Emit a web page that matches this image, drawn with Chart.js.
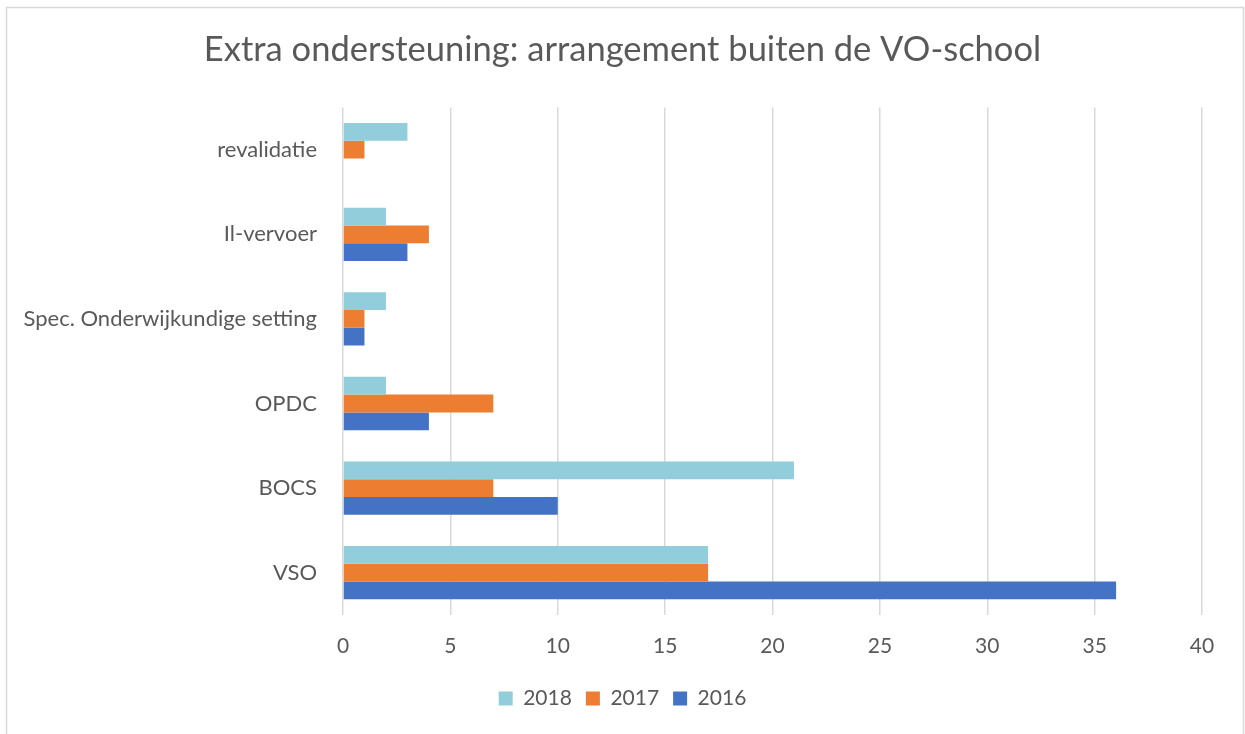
<!DOCTYPE html>
<html>
<head>
<meta charset="utf-8">
<script src="https://cdn.jsdelivr.net/npm/chart.js@4/dist/chart.umd.min.js"></script>
<style>
html,body{margin:0;padding:0;background:#fff;}
#wrap{position:relative;width:1245px;height:734px;}
</style>
</head>
<body>
<div id="wrap"><canvas id="c" width="1245" height="734"></canvas></div>
<script>
const categories = ["revalidatie", "Il-vervoer", "Spec. Onderwijkundige setting", "OPDC", "BOCS", "VSO"];
const values2018 = [3, 2, 2, 2, 21, 17];
const values2017 = [1, 4, 1, 7, 7, 17];
const values2016 = [0, 3, 1, 4, 10, 36];
const seriesNames = ["2018", "2017", "2016"];
const xTicks = [0, 5, 10, 15, 20, 25, 30, 35, 40];

const FONT = "Lato, 'Open Sans', sans-serif";
const TXT = "#595959";

const borderPlugin = {
  id: 'frame',
  beforeDraw(chart) {
    const ctx = chart.ctx;
    ctx.save();
    ctx.strokeStyle = '#d9d9d9';
    ctx.lineWidth = 1.5;
    ctx.strokeRect(6.5, 7.5, 1237, 760);
    ctx.restore();
  }
};

new Chart(document.getElementById('c'), {
  type: 'bar',
  data: {
    labels: categories,
    datasets: [
      { label: seriesNames[0], data: values2018, backgroundColor: '#92CDDC' },
      { label: seriesNames[1], data: values2017, backgroundColor: '#ED7D31' },
      { label: seriesNames[2], data: values2016, backgroundColor: '#4472C4' }
    ]
  },
  options: {
    indexAxis: 'y',
    responsive: false,
    animation: false,
    devicePixelRatio: 1,
    layout: { padding: { top: 9, right: 0, bottom: 15, left: 0 } },
    datasets: { bar: { categoryPercentage: 0.63, barPercentage: 1.0 } },
    scales: {
      x: {
        min: 0, max: 40,
        afterBuildTicks(scale) { scale.ticks = xTicks.map(v => ({ value: v })); },
        afterFit(scale) { scale.height = 59; },
        grid: { color: '#d9d9d9', lineWidth: 1.5, drawTicks: false },
        border: { display: false },
        ticks: { color: TXT, font: { family: FONT, size: 21 }, padding: 19 }
      },
      y: {
        afterFit(scale) { scale.width = 343; },
        grid: { display: false },
        border: { display: false },
        ticks: { color: TXT, font: { family: FONT, size: 22 }, padding: 18 }
      },
      yRight: {
        type: 'category',
        position: 'right',
        afterFit(scale) { scale.width = 43; },
        grid: { display: false },
        border: { display: false },
        ticks: { display: false }
      }
    },
    plugins: {
      title: {
        display: true,
        text: 'Extra ondersteuning: arrangement buiten de VO-school',
        color: TXT,
        font: { family: FONT, size: 34.5, weight: 'normal' },
        padding: { top: 20, bottom: 37 }
      },
      legend: {
        position: 'bottom',
        labels: { color: TXT, font: { family: FONT, size: 21 }, boxWidth: 14, boxHeight: 14, padding: 14 }
      },
      tooltip: { enabled: false }
    }
  },
  plugins: [borderPlugin]
});
</script>
</body>
</html>
